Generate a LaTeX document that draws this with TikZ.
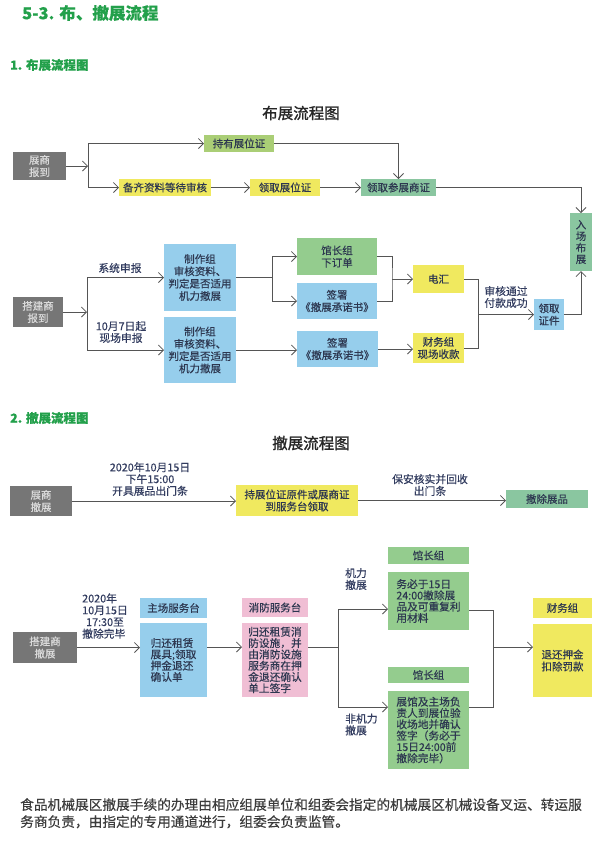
\documentclass[tikz,border=0pt]{standalone}
\usepackage{fontspec}
\setmainfont{Noto Sans CJK SC}[FakeBold=0.4]
\newfontfamily\medfont{Noto Sans CJK SC}[FakeBold=1.4]
\usetikzlibrary{arrows.meta}
\definecolor{lc}{RGB}{85,85,85}
\definecolor{gry}{RGB}{118,118,118}
\definecolor{gtx}{RGB}{218,218,218}
\definecolor{yel}{RGB}{240,233,95}
\definecolor{lgr}{RGB}{170,206,118}
\definecolor{teal}{RGB}{138,198,160}
\definecolor{ggr}{RGB}{148,204,142}
\definecolor{blu}{RGB}{150,206,236}
\definecolor{pnk}{RGB}{240,190,212}
\definecolor{ttl}{RGB}{35,160,75}
\definecolor{tx}{RGB}{45,55,80}
\definecolor{lab}{RGB}{50,60,95}
\definecolor{para}{RGB}{60,60,60}
\newcommand\fsz[2]{\fontsize{#1}{#2}\selectfont}
\begin{document}
\begin{tikzpicture}[x=1pt,y=-1pt,
  ln/.style={draw=lc, line width=0.8pt},
  arr/.style={ln, -{Straight Barb[length=5pt,width=10pt,line width=0.8pt]}},
  box/.style={inner sep=0pt, outer sep=0pt, align=center, text=tx, font=\fsz{10.5}{12.3}},
  gbox/.style={box, fill=gry, text=gtx},
  body/.style={box, align=left, font=\fsz{10.7}{11.3}},
  lbl/.style={inner sep=0pt, align=center, text=lab, font=\fsz{10.8}{11.8}},
  sect/.style={inner sep=0pt, anchor=west, text=ttl, font=\fsz{12.5}{14}\bfseries},
  ftitle/.style={inner sep=0pt, text=black!85, font=\medfont\fsz{15.5}{17}}
]
\useasboundingbox (0,0) rectangle (600,847);

% headings
\node[inner sep=0pt, anchor=west, text=ttl, font=\fsz{16.5}{19}\bfseries] (head) at (22,13) {5-3. 布、撤展流程};
\node[sect] (s1) at (10,65) {1. 布展流程图};
\node[ftitle] (t1) at (301,113) {布展流程图};

% ---------- flow 1 ----------
\node[gbox, minimum width=53pt, minimum height=28pt] (zs) at (39.5,166) {展商\\报到};
\node[box, fill=lgr, minimum width=70pt, minimum height=17pt] (hold) at (239,143.5) {持有展位证};
\node[box, fill=yel, minimum width=92pt, minimum height=17pt] (prep) at (165,187.5) {备齐资料等待审核};
\node[box, fill=yel, minimum width=70pt, minimum height=17pt] (getpos) at (285,187.5) {领取展位证};
\node[box, fill=teal, minimum width=75pt, minimum height=17pt] (getcert) at (398.5,187.5) {领取参展商证};
\node[box, fill=teal, minimum width=22pt, minimum height=58pt, font=\fsz{10.5}{11.5}] (enter) at (581,242) {入\\场\\布\\展};
\node[box, fill=blu, minimum width=30pt, minimum height=31pt] (getdoc) at (549,314.5) {领取\\证件};

\node[gbox, minimum width=50pt, minimum height=30pt] (dj) at (38,312) {搭建商\\报到};
\node[box, fill=blu, minimum width=72pt, minimum height=67pt] (mk1) at (200,277.5) {制作组\\审核资料、\\判定是否适用\\机力撤展};
\node[box, fill=blu, minimum width=72pt, minimum height=66pt] (mk2) at (200,350) {制作组\\审核资料、\\判定是否适用\\机力撤展};
\node[box, fill=ggr, minimum width=80pt, minimum height=37pt] (gz) at (337,256.5) {馆长组\\下订单};
\node[box, fill=blu, minimum width=80pt, minimum height=36pt] (sign1) at (337,301) {签署\\《撤展承诺书》};
\node[box, fill=blu, minimum width=81pt, minimum height=36pt] (sign2) at (337.5,349) {签署\\《撤展承诺书》};
\node[box, fill=yel, minimum width=51pt, minimum height=28pt] (wire) at (438.5,279) {电汇};
\node[box, fill=yel, minimum width=51pt, minimum height=30pt] (cash) at (438.5,348) {财务组\\现场收款};

\coordinate (b1) at (88,166);
\coordinate (b2) at (87,312);
\coordinate (b3) at (272,277.5);
\coordinate (b4) at (392,279);
\coordinate (b5) at (478,314.5);

\draw[arr] (zs.east) -- (b1);
\draw[arr] (b1) |- (hold.west);
\draw[arr] (b1) |- (prep.west);
\draw[arr] (prep) -- (getpos);
\draw[arr] (getpos) -- (getcert);
\draw[arr] (hold.east) -| (getcert.north);
\draw[arr] (getcert.east) -| (enter.north);
\draw[arr] (getdoc.east) -| (enter.south);

\draw[arr] (dj.east) -- (b2);
\draw[arr] (b2) |- (mk1.west);
\draw[arr] (b2) |- (mk2.west);
\draw[ln] (mk1.east) -- (b3);
\draw[arr] (b3) |- (gz.west);
\draw[arr] (b3) |- (sign1.west);
\draw[ln] (gz.east) -| (b4) |- (sign1.east);
\draw[arr] (b4) -- (wire.west);
\draw[arr] (mk2.east) -- (mk2.east -| sign2.west);
\draw[arr] (sign2.east) -- (sign2.east -| cash.west);
\draw[ln] (wire.east) -| (b5);
\draw[ln] (cash.east) -| (b5);
\draw[arr] (b5) -- (getdoc.west);

\node[lbl] (l1) at (120,268) {系统申报};
\node[lbl] (l2) at (121,332) {10月7日起\\现场申报};
\node[lbl] (l3) at (506,297) {审核通过\\付款成功};

% ---------- flow 2 ----------
\node[sect] (s2) at (10,418) {2. 撤展流程图};
\node[ftitle] (t2) at (311,443) {撤展流程图};

\node[gbox, minimum width=62pt, minimum height=30pt] (zs2) at (41,501) {展商\\撤展};
\node[box, fill=yel, minimum width=122pt, minimum height=31pt, font=\fsz{10.5}{12}] (take) at (297,500.5) {持展位证原件或展商证\\到服务台领取};
\node[box, fill=teal, minimum width=82pt, minimum height=18pt] (remove) at (547,499) {撤除展品};
\draw[arr] (zs2.east) -- (zs2.east -| take.west);
\draw[arr] (take.east) -- (take.east -| remove.west);
\node[lbl] (l4) at (150,479) {2020年10月15日\\下午15:00\\开具展品出门条};
\node[lbl] (l5) at (430,485) {保安核实并回收\\出门条};

\node[gbox, minimum width=64pt, minimum height=31pt] (dj2) at (45,647.5) {搭建商\\撤展};
\node[box, fill=blu, minimum width=67pt, minimum height=20pt] (hsh) at (173.5,608) {主场服务台};
\node[body, fill=blu, minimum width=67pt, minimum height=74pt] (hsb) at (173.5,660) {归还租赁\\展具;领取\\押金退还\\确认单};
\node[box, fill=pnk, minimum width=66pt, minimum height=19pt] (xfh) at (275,607.5) {消防服务台};
\node[body, fill=pnk, minimum width=66pt, minimum height=74pt] (xfb) at (275,660) {归还租赁消\\防设施，并\\由消防设施\\服务商在押\\金退还确认\\单上签字};
\node[box, fill=ggr, minimum width=81pt, minimum height=17pt] (g1h) at (428.5,555.5) {馆长组};
\node[body, fill=ggr, minimum width=81pt, minimum height=58pt] (g1b) at (428.5,601) {务必于15日\\24:00撤除展\\品及可重复利\\用材料};
\node[box, fill=ggr, minimum width=81pt, minimum height=16pt] (g2h) at (428.5,675) {馆长组};
\node[body, fill=ggr, minimum width=81pt, minimum height=78pt] (g2b) at (428.5,730) {展馆及主场负\\责人到展位验\\收场地并确认\\签字（务必于\\15日24:00前\\撤除完毕）};
\node[box, fill=yel, minimum width=59pt, minimum height=20pt] (cwh) at (562.5,608) {财务组};
\node[box, fill=yel, minimum width=59pt, minimum height=73pt, font=\fsz{10.5}{12}] (cwb) at (562.5,660.5) {退还押金\\扣除罚款};

\coordinate (c1) at (338,647);
\coordinate (c2) at (493,647);
\draw[arr] (dj2.east) -- (dj2.east -| hsb.west);
\draw[arr] (hsb.east |- c1) -- (xfb.west |- c1);
\draw[ln] (xfb.east |- c1) -- (c1);
\draw[arr] (c1) |- ([yshift=-8pt]g1b.west);
\draw[arr] (c1) |- ([yshift=23pt]g2b.west);
\draw[ln] ([yshift=-9pt]g1b.east) -| (c2);
\draw[ln] ([yshift=23pt]g2b.east) -| (c2);
\draw[arr] (c2) -- (c2 -| cwb.west);

\node[lbl, align=left] (l6) at (105,616) {\hfil 2020年\hfil\\10月15日\\\hfil 17:30至\hfil\\撤除完毕};
\node[lbl, align=left, anchor=west] (l7) at (345,579) {机力\\撤展};
\node[lbl, align=left, anchor=west] (l8) at (345,724.5) {非机力\\撤展};

% paragraph
\node[inner sep=0pt, anchor=north west, align=left, text=para, font=\fsz{13.7}{17}] (para) at (20,798) {食品机械展区撤展手续的办理由相应组展单位和组委会指定的机械展区机械设备叉运、转运服\\务商负责，由指定的专用通道进行，组委会负责监管。};
\end{tikzpicture}
\end{document}
